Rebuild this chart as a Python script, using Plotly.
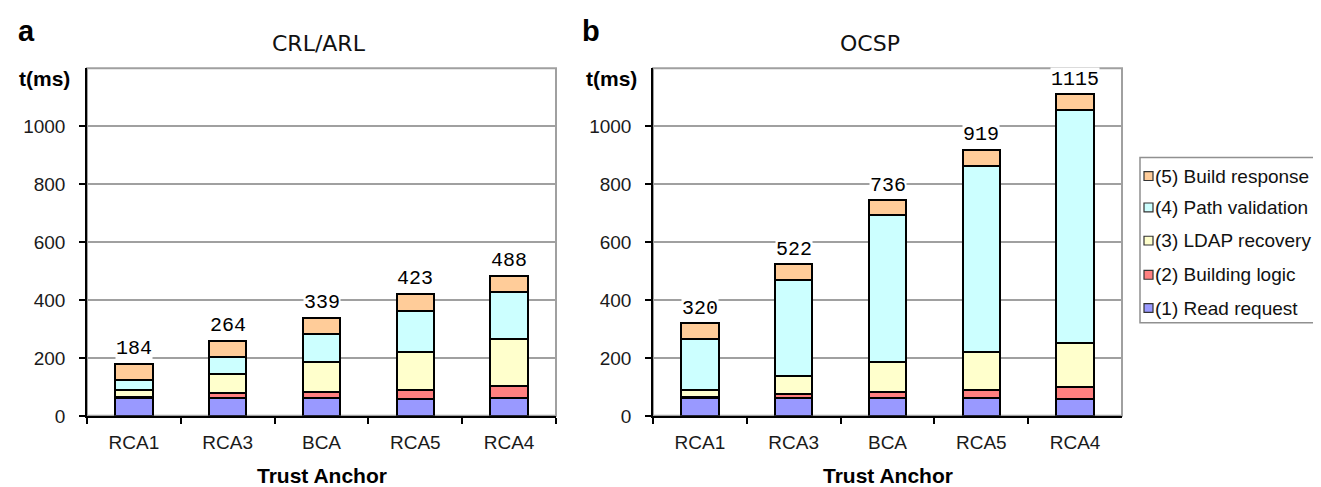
import plotly.graph_objects as go

W, H = 1321, 487

categories = ["RCA1", "RCA3", "BCA", "RCA5", "RCA4"]
series_names = ["(1) Read request", "(2) Building logic", "(3) LDAP recovery",
                "(4) Path validation", "(5) Build response"]
series_colors = ["#9999FF", "#FF8080", "#FFFFCC", "#CCFFFF", "#FFCC99"]

# CRL/ARL panel (a)
crl_read = [63, 63, 63, 58, 63]
crl_logic = [3, 15, 19, 31, 39]
crl_ldap = [22, 65, 103, 132, 162]
crl_path = [36, 60, 96, 140, 163]
crl_build = [56, 57, 57, 61, 56]
crl_totals = ["184", "264", "339", "423", "488"]

# OCSP panel (b)
ocsp_read = [63, 63, 63, 63, 57]
ocsp_logic = [2, 13, 18, 26, 44]
ocsp_ldap = [23, 62, 104, 132, 151]
ocsp_path = [176, 331, 507, 643, 803]
ocsp_build = [55, 55, 52, 54, 55]
ocsp_totals = ["320", "522", "736", "919", "1115"]

y_ticks = [0, 200, 400, 600, 800, 1000]


def px(x):
    return x / W


def py(y):
    return 1 - y / H


fig = go.Figure()

panels = [
    ("x", "y", [crl_read, crl_logic, crl_ldap, crl_path, crl_build], crl_totals),
    ("x2", "y2", [ocsp_read, ocsp_logic, ocsp_ldap, ocsp_path, ocsp_build], ocsp_totals),
]

annotations = []
for xa, ya, series, totals in panels:
    for name, color, vals in zip(series_names, series_colors, series):
        fig.add_trace(go.Bar(
            x=categories, y=vals, name=name, xaxis=xa, yaxis=ya,
            width=0.4, showlegend=False,
            marker=dict(color=color, line=dict(color="black", width=2)),
        ))
    sums = [sum(v) for v in zip(*series)]
    for c, s, t in zip(categories, sums, totals):
        annotations.append(dict(
            x=c, y=s, xref=xa, yref=ya, text=t, showarrow=False,
            yanchor="middle", yshift=15, bgcolor="white", borderpad=0,
            font=dict(family="Liberation Mono", size=20, color="black"),
        ))

ydom = [py(417.3), py(61.7)]
axis_font = dict(family="Liberation Sans", size=19, color="#1a1a1a")

common_x = dict(
    type="category", showline=True, linecolor="black", linewidth=1.5,
    ticks="outside", ticklen=6, tickwidth=1.5, tickcolor="black",
    tickson="boundaries", showgrid=False, tickfont=axis_font,
    ticklabelstandoff=9, fixedrange=True,
)
common_y = dict(
    range=[0, 1200], tickvals=y_ticks, showline=True, linecolor="black",
    linewidth=1.5, ticks="outside", ticklen=6, tickwidth=1.5, tickcolor="black",
    showgrid=True, gridcolor="#a0a0a0", gridwidth=1.5, zeroline=False,
    tickfont=axis_font, ticklabelstandoff=10, domain=ydom, fixedrange=True,
)

fig.update_layout(
    width=W, height=H,
    margin=dict(l=0, r=0, t=0, b=0),
    paper_bgcolor="white", plot_bgcolor="white",
    barmode="stack", bargap=0.6, showlegend=False,
    xaxis=dict(domain=[px(79), px(548)], anchor="y", **common_x),
    yaxis=dict(anchor="x", **common_y),
    xaxis2=dict(domain=[px(645), px(1114)], anchor="y2", **common_x),
    yaxis2=dict(anchor="x2", **common_y),
)

shapes = []
# gray frames (top/right) around plot areas
for xa, ya in [("x", "y"), ("x2", "y2")]:
    shapes.append(dict(type="rect", xref=f"{xa} domain", yref=f"{ya} domain",
                       x0=0, x1=1, y0=0, y1=1, layer="below",
                       line=dict(color="#a0a0a0", width=2)))

# text annotations: panel letters, titles, axis titles
bold = "Liberation Sans"
texts = [
    ("a", 18, 24, dict(family=bold, size=29, color="black"), True),
    ("b", 583, 24, dict(family=bold, size=29, color="black"), True),
    ("CRL/ARL", 311, 36, dict(family="DejaVu Sans", size=22, color="#111"), False),
    ("OCSP", 862, 36, dict(family="DejaVu Sans", size=22, color="#111"), False),
    ("t(ms)", 36, 72, dict(family=bold, size=21, color="black"), True),
    ("t(ms)", 603, 72, dict(family=bold, size=21, color="black"), True),
    ("Trust Anchor", 314, 478, dict(family=bold, size=21, color="black"), True),
    ("Trust Anchor", 880, 478, dict(family=bold, size=21, color="black"), True),
]
for t, x, y, f, b in texts:
    annotations.append(dict(
        x=px(x), y=py(y), xref="paper", yref="paper", showarrow=False,
        text=f"<b>{t}</b>" if b else t, font=f, xanchor="center", yanchor="middle",
    ))

# legend (drawn manually to match the boxed layout)
shapes.append(dict(type="rect", xref="paper", yref="paper",
                   x0=px(1132), x1=px(1330), y0=py(322), y1=py(153),
                   line=dict(color="#909090", width=1.5), fillcolor="white"))
legend_y = [307, 273, 238, 204, 172]
for name, color, ly in zip(series_names, series_colors, legend_y):
    shapes.append(dict(type="rect", xref="paper", yref="paper",
                       x0=px(1136), x1=px(1145), y0=py(ly + 4.5), y1=py(ly - 4.5),
                       line=dict(color="#333", width=1.2), fillcolor=color))
    annotations.append(dict(
        x=px(1145), y=py(ly), xref="paper", yref="paper", showarrow=False,
        text=name, xanchor="left", yanchor="middle",
        font=dict(family="Liberation Sans", size=19, color="#111"),
    ))

fig.update_layout(shapes=shapes, annotations=annotations)

fig.write_html("out.html")
